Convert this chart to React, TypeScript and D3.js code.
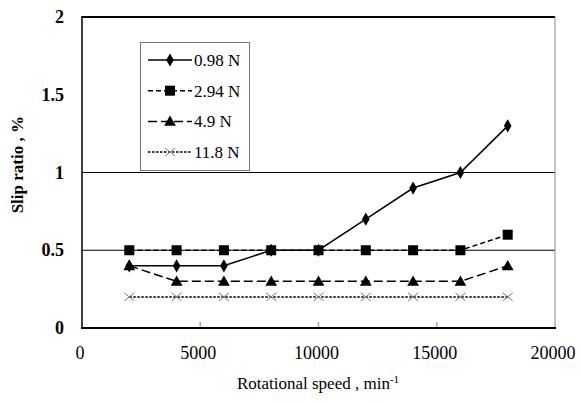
import React from 'react';
import * as d3 from 'd3';

// speeds (min-1) and slip ratio (%) per load
const speeds = [2000, 4000, 6000, 8000, 10000, 12000, 14000, 16000, 18000];
const load098 = [0.4, 0.4, 0.4, 0.5, 0.5, 0.7, 0.9, 1.0, 1.3];
const load294 = [0.5, 0.5, 0.5, 0.5, 0.5, 0.5, 0.5, 0.5, 0.6];
const load49 = [0.4, 0.3, 0.3, 0.3, 0.3, 0.3, 0.3, 0.3, 0.4];
const load118 = [0.2, 0.2, 0.2, 0.2, 0.2, 0.2, 0.2, 0.2, 0.2];
const seriesNames = ['0.98 N', '2.94 N', '4.9 N', '11.8 N'];
const xTicks = [0, 5000, 10000, 15000, 20000];
const yTicks = [0, 0.5, 1, 1.5, 2];
const gridValues = [0.5, 1];

const W = 581;
const H = 403;
const margin = { top: 17, right: 26, bottom: 75, left: 82 };
const font = { fontFamily: '"Liberation Serif"' };

const x = d3.scaleLinear().domain([0, 20000]).range([margin.left, W - margin.right]);
const y = d3.scaleLinear().domain([0, 2]).range([H - margin.bottom, margin.top]);

const series = [
  { name: seriesNames[0], values: load098, dash: undefined, marker: 'diamond' },
  { name: seriesNames[1], values: load294, dash: '5,3', marker: 'square' },
  { name: seriesNames[2], values: load49, dash: '9,4', marker: 'triangle' },
  { name: seriesNames[3], values: load118, dash: '2.5,1.5', marker: 'cross' },
];

const line = d3.line<number>().x((_, i) => x(speeds[i])).y(d => y(d));

const Marker = ({ kind, cx, cy }: { kind: string; cx: number; cy: number }) => {
  if (kind === 'diamond') {
    return <path d={d3.symbol(d3.symbolDiamond, 50)() || ''} transform={`translate(${cx},${cy})`} fill="#000" />;
  }
  if (kind === 'square') {
    return <rect x={cx - 5} y={cy - 5} width={10} height={10} fill="#000" />;
  }
  if (kind === 'triangle') {
    return <path d={d3.symbol(d3.symbolTriangle, 60)() || ''} transform={`translate(${cx},${cy + 1})`} fill="#000" />;
  }
  return (
    <path d={`M${cx - 5},${cy - 4}L${cx + 5},${cy + 4}M${cx - 5},${cy + 4}L${cx + 5},${cy - 4}`}
      stroke="#777" strokeWidth={1} fill="none" />
  );
};

const App = () => {
  const x0 = x(0);
  const x1 = x(20000);
  return (
    <svg width={W} height={H} style={{ position: 'absolute', left: 0, top: 0, background: '#fff' }}>
      {/* gridlines */}
      {gridValues.map(v => (
        <line key={v} x1={x0} x2={x1} y1={y(v)} y2={y(v)} stroke="#000" strokeWidth={1} />
      ))}

      {/* frame */}
      <line x1={x0} x2={x1} y1={y(2)} y2={y(2)} stroke="#000" strokeWidth={2} />
      <line x1={x1} x2={x1} y1={y(2)} y2={y(0)} stroke="#888" strokeWidth={1} />
      <line x1={x0} x2={x0} y1={y(2) - 1} y2={y(0) + 1} stroke="#000" strokeWidth={1.5} />
      {xTicks.slice(1, -1).map(t => (
        <line key={t} x1={x(t)} x2={x(t)} y1={y(0)} y2={y(0) - 6} stroke="#aaa" strokeWidth={1.5} />
      ))}
      <line x1={x0 - 1} x2={x1 + 1} y1={y(0)} y2={y(0)} stroke="#000" strokeWidth={2} />

      {/* tick labels */}
      {xTicks.map(t => (
        <text key={t} x={x(t) - 2} y={y(0) + 31} textAnchor="middle" fontSize={18} style={font}>{t}</text>
      ))}
      {yTicks.map(t => (
        <text key={t} x={64} y={y(t) + 6} textAnchor="end" fontSize={18} fontWeight="bold" style={font}>{t}</text>
      ))}

      {/* axis titles */}
      <text x={318} y={389} textAnchor="middle" fontSize={17} style={font}>
        Rotational speed , min<tspan dy={-6} fontSize={11}>-1</tspan>
      </text>
      <text transform={`translate(23, ${y(1.05)}) rotate(-90)`} textAnchor="middle" fontSize={17}
        fontWeight="bold" style={font}>Slip ratio , %</text>

      {/* series */}
      {series.map(s => (
        <g key={s.name}>
          <path d={line(s.values) || ''} fill="none" stroke="#000" strokeWidth={1.5} strokeDasharray={s.dash} />
          {s.values.map((v, i) => <Marker key={i} kind={s.marker} cx={x(speeds[i])} cy={y(v)} />)}
        </g>
      ))}

      {/* legend */}
      <rect x={140.5} y={42.5} width={109} height={128} fill="#fff" stroke="#777" strokeWidth={1} />
      {series.map((s, i) => {
        const ly = 60 + i * 30.7;
        return (
          <g key={s.name}>
            <line x1={148} x2={192} y1={ly} y2={ly} stroke="#000" strokeWidth={1.5} strokeDasharray={s.dash} />
            <Marker kind={s.marker} cx={170} cy={ly} />
            <text x={194} y={ly + 6} fontSize={17} style={font}>{s.name}</text>
          </g>
        );
      })}
    </svg>
  );
};

export default App;
